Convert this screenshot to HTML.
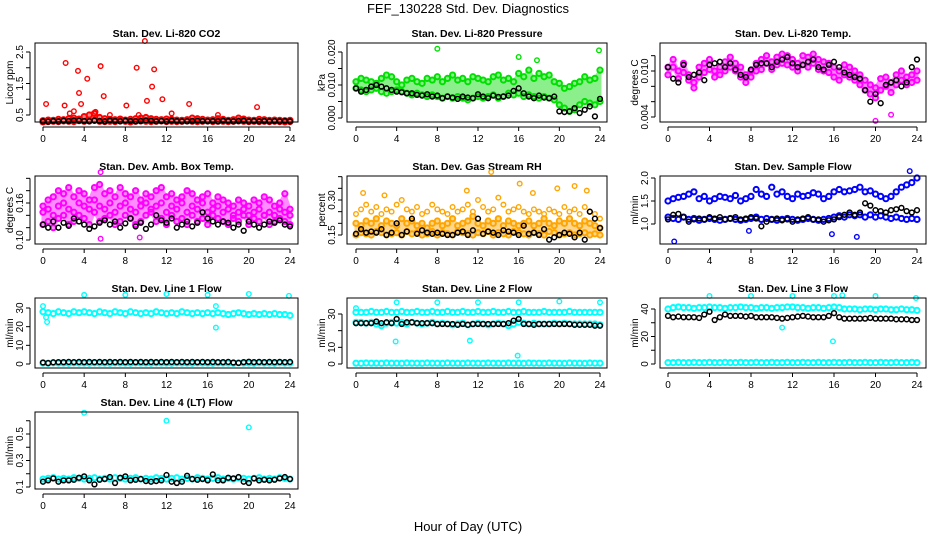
<!DOCTYPE html>
<html><head><meta charset="utf-8"><style>
body{margin:0;background:#fff}
svg{display:block;font-family:"Liberation Sans",sans-serif}
</style></head><body>
<svg id="c" width="936" height="540">
<text x="468" y="13" text-anchor="middle" font-size="13">FEF_130228  Std. Dev. Diagnostics</text>
<text x="468" y="531" text-anchor="middle" font-size="13">Hour of Day (UTC)</text>
</svg>
<script>
const hours = Array.from({length:49},(_, i)=>i*0.5);
const xTicks = [0,4,8,12,16,20,24];
// CO2
const co2Red = [0.32,0.34,0.33,0.36,0.35,0.38,0.40,0.37,0.45,0.50,0.55,0.42,0.38,0.36,0.35,0.37,0.34,0.36,0.38,0.40,0.42,0.38,0.36,0.35,0.37,0.36,0.34,0.33,0.35,0.40,0.38,0.36,0.34,0.35,0.38,0.36,0.33,0.35,0.40,0.37,0.34,0.33,0.36,0.35,0.33,0.34,0.33,0.32,0.33];
const co2Red2 = [0.28,0.29,0.30,0.29,0.31,0.30,0.29,0.32,0.30,0.31,0.33,0.30,0.29,0.30,0.29,0.31,0.30,0.28,0.30,0.31,0.30,0.29,0.30,0.31,0.29,0.30,0.29,0.30,0.31,0.30,0.29,0.30,0.31,0.29,0.30,0.30,0.29,0.30,0.31,0.30,0.29,0.30,0.29,0.30,0.29,0.30,0.29,0.28,0.29];
const co2Black = [0.30,0.29,0.31,0.30,0.32,0.31,0.33,0.32,0.31,0.30,0.32,0.31,0.30,0.33,0.31,0.30,0.32,0.31,0.30,0.31,0.33,0.32,0.30,0.31,0.30,0.32,0.31,0.30,0.30,0.31,0.32,0.31,0.30,0.31,0.30,0.32,0.31,0.30,0.31,0.32,0.30,0.31,0.30,0.31,0.30,0.31,0.30,0.31,0.30];
const co2OutX = [0.3,2.2,2.1,3.4,3.5,3.7,4.3,5.6,5.9,5.1,8.1,9.1,9.9,10.1,10.6,10.8,11.6,14.2,20.8,12.5,3.0,6.5,17.0,2.6,9.3];
const co2OutY = [0.85,2.15,0.80,1.90,1.20,0.85,1.65,2.05,1.10,0.60,0.80,2.00,2.85,0.95,1.40,1.95,1.00,0.85,0.75,0.55,0.62,0.50,0.50,0.55,0.50];
// Pressure
const prGreenHi = [0.011,0.012,0.0115,0.011,0.0105,0.012,0.013,0.0125,0.011,0.010,0.0115,0.012,0.011,0.0105,0.012,0.0115,0.0125,0.011,0.012,0.013,0.0115,0.012,0.011,0.0125,0.012,0.0115,0.011,0.0125,0.013,0.0115,0.012,0.011,0.0135,0.0125,0.0145,0.012,0.0135,0.0125,0.013,0.011,0.0105,0.009,0.0095,0.0105,0.011,0.0125,0.0115,0.012,0.0145];
const prGreenLo = [0.009,0.0085,0.008,0.0085,0.009,0.008,0.0075,0.008,0.0085,0.008,0.0075,0.007,0.0075,0.007,0.0065,0.007,0.0065,0.006,0.0065,0.006,0.0065,0.006,0.0055,0.006,0.0065,0.006,0.0065,0.007,0.006,0.0065,0.0075,0.007,0.0075,0.0065,0.007,0.0065,0.006,0.0065,0.006,0.0055,0.004,0.003,0.002,0.0025,0.004,0.005,0.0045,0.004,0.005];
const prBlack = [0.009,0.008,0.0085,0.0095,0.010,0.0095,0.009,0.0085,0.008,0.0078,0.0075,0.0075,0.007,0.0068,0.0072,0.0065,0.0068,0.006,0.0065,0.0062,0.0058,0.0065,0.0062,0.006,0.0072,0.0065,0.006,0.0068,0.0064,0.0065,0.0068,0.0082,0.009,0.0075,0.0065,0.006,0.0068,0.0062,0.006,0.0065,0.002,0.0018,0.002,0.003,0.0015,0.0025,0.0035,0.0005,0.0058];
const prOutX = [8.0,16.0,17.8,23.9];
const prOutY = [0.021,0.0185,0.0175,0.0205];
// Li-820 Temp
const tpMag = [0.0105,0.0115,0.010,0.011,0.0095,0.0085,0.0105,0.011,0.0115,0.010,0.0105,0.0112,0.0118,0.011,0.0105,0.0095,0.010,0.011,0.0115,0.012,0.0112,0.0118,0.0122,0.012,0.0115,0.011,0.012,0.0118,0.0122,0.0115,0.0112,0.011,0.0105,0.010,0.0108,0.0105,0.010,0.0095,0.0088,0.0082,0.0078,0.009,0.0092,0.0085,0.0095,0.010,0.0092,0.0095,0.010];
const tpMag2 = [0.0095,0.0105,0.009,0.0098,0.0088,0.0078,0.0092,0.0098,0.0102,0.0092,0.0095,0.010,0.0105,0.010,0.0092,0.0085,0.0092,0.010,0.0102,0.011,0.0102,0.0108,0.011,0.0108,0.0105,0.010,0.0108,0.0105,0.011,0.0102,0.010,0.0098,0.0092,0.0088,0.0095,0.0092,0.0088,0.0082,0.0075,0.007,0.0065,0.0075,0.008,0.0072,0.0082,0.0088,0.0082,0.0085,0.0088];
const tpBlack = [0.0105,0.009,0.0085,0.0108,0.0092,0.0095,0.0098,0.0088,0.0108,0.011,0.0112,0.0105,0.011,0.0102,0.0095,0.0092,0.0102,0.0108,0.011,0.011,0.0105,0.0112,0.0115,0.0118,0.011,0.0105,0.0108,0.0112,0.0115,0.0105,0.0102,0.0108,0.0112,0.0105,0.0098,0.0095,0.0092,0.009,0.0075,0.006,0.007,0.0058,0.0082,0.0085,0.0088,0.008,0.0085,0.0105,0.0115];
const tpOutX = [20.0,21.5];
const tpOutY = [0.0035,0.0043];
// Amb Box Temp
const abMagHi = [0.155,0.165,0.17,0.18,0.175,0.185,0.17,0.18,0.175,0.165,0.185,0.19,0.175,0.18,0.17,0.185,0.175,0.17,0.18,0.165,0.175,0.17,0.18,0.185,0.17,0.175,0.165,0.17,0.18,0.175,0.165,0.17,0.175,0.16,0.17,0.165,0.16,0.155,0.165,0.16,0.155,0.165,0.16,0.17,0.165,0.155,0.16,0.175,0.15];
const abMagLo = [0.125,0.13,0.12,0.135,0.14,0.125,0.13,0.14,0.135,0.125,0.145,0.13,0.135,0.14,0.125,0.13,0.14,0.135,0.125,0.13,0.14,0.145,0.13,0.135,0.125,0.14,0.13,0.135,0.125,0.14,0.13,0.135,0.125,0.14,0.135,0.13,0.125,0.135,0.13,0.14,0.125,0.135,0.13,0.14,0.125,0.13,0.135,0.13,0.125];
const abMagMid = [0.145,0.15,0.14,0.155,0.16,0.15,0.145,0.16,0.155,0.15,0.165,0.155,0.15,0.16,0.145,0.155,0.16,0.15,0.145,0.155,0.16,0.15,0.155,0.16,0.145,0.155,0.15,0.16,0.145,0.155,0.15,0.16,0.145,0.15,0.155,0.145,0.15,0.14,0.145,0.15,0.14,0.145,0.15,0.14,0.145,0.14,0.15,0.145,0.14];
const abBlack = [0.125,0.12,0.13,0.12,0.128,0.123,0.135,0.13,0.125,0.118,0.122,0.128,0.132,0.125,0.13,0.12,0.127,0.135,0.122,0.128,0.118,0.125,0.14,0.132,0.128,0.135,0.12,0.125,0.13,0.122,0.128,0.145,0.135,0.13,0.125,0.13,0.128,0.12,0.125,0.115,0.13,0.125,0.12,0.125,0.13,0.128,0.132,0.125,0.122];
const abOutX = [5.6,9.4,5.6];
const abOutY = [0.102,0.104,0.21];
// Gas Stream RH
const rhOrLo = [0.15,0.16,0.155,0.15,0.165,0.16,0.15,0.155,0.16,0.15,0.165,0.155,0.16,0.15,0.155,0.165,0.15,0.16,0.155,0.15,0.165,0.16,0.155,0.15,0.16,0.155,0.165,0.15,0.16,0.155,0.15,0.165,0.16,0.155,0.15,0.16,0.155,0.15,0.165,0.16,0.15,0.155,0.16,0.15,0.155,0.16,0.15,0.155,0.15];
const rhOrMid = [0.2,0.19,0.21,0.2,0.22,0.19,0.21,0.2,0.19,0.22,0.2,0.21,0.19,0.2,0.18,0.2,0.21,0.19,0.2,0.22,0.19,0.2,0.21,0.23,0.2,0.19,0.21,0.2,0.22,0.19,0.21,0.2,0.19,0.2,0.21,0.19,0.2,0.22,0.2,0.19,0.21,0.2,0.22,0.2,0.19,0.21,0.2,0.19,0.18];
const rhOrHi = [0.24,0.26,0.28,0.25,0.27,0.24,0.26,0.25,0.28,0.3,0.26,0.25,0.27,0.24,0.25,0.28,0.26,0.25,0.24,0.27,0.25,0.26,0.28,0.25,0.3,0.27,0.25,0.26,0.31,0.28,0.25,0.26,0.27,0.25,0.24,0.26,0.25,0.24,0.26,0.25,0.24,0.27,0.25,0.26,0.24,0.27,0.25,0.24,0.22];
const rhBlack = [0.155,0.175,0.16,0.165,0.16,0.175,0.15,0.16,0.2,0.15,0.165,0.22,0.155,0.17,0.16,0.155,0.16,0.155,0.15,0.15,0.16,0.165,0.15,0.17,0.22,0.155,0.165,0.16,0.15,0.17,0.165,0.16,0.15,0.19,0.155,0.16,0.15,0.175,0.13,0.14,0.15,0.16,0.155,0.14,0.16,0.13,0.25,0.22,0.18];
const rhOutX = [13.3,0.7,2.8,16.1,19.8,21.5,17.4,22.7,10.9];
const rhOutY = [0.42,0.33,0.32,0.37,0.35,0.36,0.33,0.34,0.34];
// Sample Flow
const sfBlueHi = [1.5,1.55,1.58,1.6,1.65,1.7,1.55,1.6,1.5,1.55,1.6,1.58,1.55,1.62,1.5,1.55,1.6,1.75,1.65,1.6,1.8,1.65,1.7,1.6,1.55,1.65,1.6,1.62,1.68,1.65,1.55,1.6,1.7,1.75,1.7,1.72,1.75,1.8,1.7,1.72,1.65,1.6,1.55,1.6,1.7,1.8,1.85,1.9,2.0];
const sfBlueLo = [1.15,1.12,1.1,1.15,1.1,1.12,1.08,1.1,1.12,1.1,1.08,1.1,1.12,1.1,1.08,1.1,1.12,1.15,1.1,1.12,1.1,1.08,1.1,1.12,1.1,1.08,1.1,1.12,1.1,1.08,1.1,1.12,1.15,1.18,1.15,1.2,1.18,1.2,1.15,1.2,1.15,1.18,1.15,1.12,1.15,1.12,1.1,1.12,1.1];
const sfBlack = [1.1,1.2,1.22,1.15,1.05,1.1,1.12,1.1,1.15,1.12,1.15,1.1,1.12,1.15,1.1,1.12,1.15,1.12,0.95,1.05,1.1,1.12,1.08,1.1,1.05,1.1,1.12,1.15,1.1,1.1,1.05,1.08,1.1,1.15,1.2,1.25,1.2,1.25,1.45,1.4,1.3,1.28,1.25,1.3,1.32,1.35,1.28,1.25,1.3];
const sfOutX = [0.6,7.8,15.8,18.2,23.3];
const sfOutY = [0.62,0.85,0.78,0.72,2.15];
// Line 1
const l1Cyan = [28,27.5,27,28,27.5,27,28,27.5,28,27.5,27,28,27.5,27,28,27.5,27,28,27.5,27,27.5,27,28,27.5,27,27.5,27,28,27.5,27,27.5,27,27.5,27,27.5,27,26.5,27,27.5,27,26.5,27,26.5,27,26.5,27,26.5,26.5,26];
const l1CyanLo = [0.5,0.4,0.6,0.5,0.5,0.4,0.6,0.5,0.5,0.4,0.6,0.5,0.5,0.4,0.6,0.5,0.5,0.4,0.6,0.5,0.5,0.4,0.6,0.5,0.5,0.4,0.6,0.5,0.5,0.4,0.6,0.5,0.5,0.4,0.6,0.5,0.5,0.4,0.6,0.5,0.5,0.4,0.6,0.5,0.5,0.4,0.6,0.5,0.5];
const l1Black = [0.8,0.5,0.9,1,1,1.1,1,1.1,1,1.1,1,1.1,1,1.1,1,1.1,1,1.1,1,1.1,1,1.1,1,1.1,1,1.1,1,1.1,1,1.1,1,1.1,1,1.1,1,1,1.1,0.8,0.6,1,1.2,1,1.1,1,1.1,1,1.1,1,1.1];
const l1OutX = [0,0.3,0.4,4,8,12,16,16.8,16.8,20,23.9];
const l1OutY = [31,25,22.5,37,37,37.5,37,31,19.5,37.5,36.5];
// Line 2
const l2CyanHi = [31,31,31,31.5,31,31,31.5,31,31,31.5,31,31,31.5,31,31,31.5,31,31,31.5,31,31,31.5,31,31,31.5,31,31,31.5,31,31,31.5,31,31,31.5,31,31,31,31.5,31,31,31,31,31.5,31,31,31,31,31,31];
const l2CyanMid = [25,25,24.5,25,24,23,24.5,25,24.5,25,24,25,24.5,24,24.5,25,24,24.5,24,23.5,24,24.5,23.5,24,24.5,24,23.5,24,24.5,24,23,24,25,24.5,24,24.5,24,24,24,24.5,24,24.5,24,24,24,24,24,24,23.5];
const l2CyanLo = [0.5,0.4,0.6,0.5,0.5,0.4,0.6,0.5,0.5,0.4,0.6,0.5,0.5,0.4,0.6,0.5,0.5,0.4,0.6,0.5,0.5,0.4,0.6,0.5,0.5,0.4,0.6,0.5,0.5,0.4,0.6,0.5,0.5,0.4,0.6,0.5,0.5,0.4,0.6,0.5,0.5,0.4,0.6,0.5,0.5,0.4,0.6,0.5,0.5];
const l2Black = [24.5,24.5,24.5,24.5,25.5,24.5,25,24.5,27,24,25,25,24.5,24.5,24.5,24.5,24,24,24,24,23.5,24,23.5,24,24,24,24,24,24,24,24.5,26,27,24,24,23.5,24,24,24,24,24,24,24,23.5,23.5,23.5,23.5,23,23];
const l2OutX = [0,4,8,12,16,20,24,3.9,11.2,15.9];
const l2OutY = [33.5,37,37,37,37,37.5,37,13.5,14,5];
// Line 3
const l3CyanHi = [40,41,41.5,41,41,40.5,41,41,41.5,41,41,40.5,41,41,41.5,41,41,40.5,41,41,40.5,41,41,41.5,41.5,41,41,40.5,41,41,40.5,41,41.5,41,40,40,40,39.5,40,40,39.5,40,40,39.5,39.5,40,39.5,39.5,39];
const l3CyanLo = [1,1,1.2,1,1,1.2,1,1,1.2,1,1,1.2,1,1,1.2,1,1,1.2,1,1,1.2,1,1,1.2,1,1,1.2,1,1,1.2,1,1,1.2,1,1,1.2,1,1,1.2,1,1,1.2,1,1,1.2,1,1,1.2,1];
const l3Black = [35,34,34.5,34,34,34,33.5,36,38,32,34,36,35,35,35,34.5,35,34,34,34,34,33.5,33,33.5,34,34.5,35,34.5,34,34,34,35,37,34,33,33,33,33,33,33.5,33,33,33,33,32.5,32.5,32.5,32,32];
const l3OutX = [4,8,12,16,16.8,20,23.9,11,15.9];
const l3OutY = [49.5,49.5,49.5,49.5,50,49.5,48,26.5,16.5];
// Line 4
const l4Cyan = [0.16,0.165,0.17,0.16,0.165,0.16,0.17,0.165,0.16,0.165,0.17,0.16,0.165,0.16,0.17,0.165,0.16,0.165,0.17,0.16,0.165,0.16,0.17,0.165,0.16,0.165,0.17,0.16,0.165,0.16,0.17,0.165,0.16,0.165,0.17,0.16,0.165,0.16,0.17,0.165,0.16,0.165,0.17,0.16,0.165,0.16,0.17,0.165,0.16];
const l4Black = [0.14,0.15,0.165,0.14,0.15,0.15,0.155,0.17,0.18,0.15,0.12,0.155,0.16,0.175,0.13,0.17,0.18,0.15,0.155,0.16,0.145,0.14,0.145,0.15,0.19,0.14,0.13,0.14,0.185,0.16,0.155,0.16,0.15,0.195,0.15,0.15,0.17,0.165,0.175,0.14,0.13,0.165,0.15,0.155,0.15,0.155,0.165,0.175,0.16];
const l4OutX = [4,12,20];
const l4OutY = [0.66,0.6,0.55];

const svg = document.getElementById('c');
const NS = 'http://www.w3.org/2000/svg';
function mk(tag, attrs, parent){const e=document.createElementNS(NS,tag);for(const k in attrs)e.setAttribute(k,attrs[k]);(parent||svg).appendChild(e);return e;}

const cols=[{l:35,r:298,x0:43,x24:290},{l:347,r:607,x0:356,x24:600},{l:660,r:926,x0:668,x24:917}];
const rows=[{t:43,b:122},{t:176,b:244},{t:298,b:368},{t:412,b:489}];

function panel(name,title,ylab,ci,ri,ref,ticks,labels,fmt,bands,series){
  const c=cols[ci],r=rows[ri];
  const g=mk('g',{});
  
  
  const xs=v=>c.x0+(c.x24-c.x0)*v/24;
  const ys=v=>ref[1]+(v-ref[0])*(ref[3]-ref[1])/(ref[2]-ref[0]);
  const t=mk('text',{x:(c.l+c.r)/2,y:r.t-6,'text-anchor':'middle','font-size':10.5,'font-weight':'bold'},g);
  t.textContent=title;
  
  
  const yl=mk('text',{x:0,y:0,'text-anchor':'middle','font-size':10,transform:`translate(${c.l-22},${(r.t+r.b)/2}) rotate(-90)`},g);
  yl.textContent=ylab;
  
  
  mk('line',{x1:xs(0),x2:xs(24),y1:r.b+5,y2:r.b+5,stroke:'#000'},g);
  xTicks.forEach(v=>{
    mk('line',{x1:xs(v),x2:xs(v),y1:r.b+5,y2:r.b+9,stroke:'#000'},g);
    const tx=mk('text',{x:xs(v),y:r.b+20,'text-anchor':'middle','font-size':10},g);
    tx.textContent=v;
    
    
  });
  mk('line',{x1:c.l-5,x2:c.l-5,y1:ys(ticks[0]),y2:ys(ticks[ticks.length-1]),stroke:'#000'},g);
  ticks.forEach(v=>{
    const y=ys(v);
    mk('line',{x1:c.l-9,x2:c.l-5,y1:y,y2:y,stroke:'#000'},g);
    if(labels.includes(v)){
      const ty=mk('text',{x:0,y:0,'text-anchor':'middle','font-size':10,transform:`translate(${c.l-12},${y}) rotate(-90)`},g);
      ty.textContent=fmt<0?String(v):v.toFixed(fmt);
      
      
    }
  });
  bands.forEach(b=>{
    const pts=b.hi.map((v,i)=>xs(hours[i])+','+ys(v)).concat(b.lo.map((v,i)=>[i,v]).reverse().map(([i,v])=>xs(hours[i])+','+ys(v)));
    const pg=mk('polygon',{points:pts.join(' '),fill:b.col,opacity:0.45,stroke:b.col,'stroke-width':3,'stroke-linejoin':'round'},g);
    
    
  });
  series.forEach(s=>{
    const X=s.x||hours;
    s.y.forEach((v,i)=>{
      const p=mk('circle',{cx:xs(X[i]),cy:ys(v),r:s.k?2.4:(s.d?2.6:2.3),fill:'none',stroke:s.col,'stroke-width':s.k?1.5:(s.d?2:1.4)},g);
      
      
    });
  });
  const box=mk('rect',{x:c.l,y:r.t,width:c.r-c.l,height:r.b-r.t,fill:'none',stroke:'#000'},g);
  
  
}
const R='#ff0000',G='#00e000',M='#ff00ff',O='#ffa500',B='#0000ff',C='#00ffff',K='#000';
panel('panel-co2','Stan. Dev. Li-820 CO2','Licor ppm',0,0,[0.5,115,2.5,52],[0.5,1,1.5,2,2.5],[0.5,1.5,2.5],1,
 [{lo:co2Red2,hi:co2Red,col:R}],
 [{y:co2Red2,col:R,d:1},{y:co2Red,col:R,d:1},{x:co2OutX,y:co2OutY,col:R},{y:co2Black,col:K,k:1}]);
panel('panel-pressure','Stan. Dev. Li-820 Pressure','kPa',1,0,[0,118,0.02,52],[0,0.005,0.01,0.015,0.02],[0,0.01,0.02],3,
 [{lo:prGreenLo,hi:prGreenHi,col:G}],
 [{y:prGreenHi,col:G,d:1},{y:prGreenLo,col:G,d:1},{x:prOutX,y:prOutY,col:G},{y:prBlack,col:K,k:1}]);
panel('panel-temp','Stan. Dev. Li-820 Temp.','degrees C',2,0,[0.004,117,0.01,71],[0.004,0.006,0.008,0.01,0.012],[0.004,0.01],3,
 [{lo:tpMag2,hi:tpMag,col:M}],
 [{y:tpMag,col:M,d:1},{y:tpMag2,col:M,d:1},{x:tpOutX,y:tpOutY,col:M},{y:tpBlack,col:K,k:1}]);
panel('panel-ambbox','Stan. Dev. Amb. Box Temp.','degrees C',0,1,[0.1,240,0.16,203],[0.1,0.12,0.14,0.16,0.18,0.2],[0.1,0.16],2,
 [{lo:abMagLo,hi:abMagHi,col:M}],
 [{y:abMagHi,col:M,d:1},{y:abMagMid,col:M,d:1},{y:abMagLo,col:M,d:1},{x:abOutX,y:abOutY,col:M},{y:abBlack,col:K,k:1}]);
panel('panel-rh','Stan. Dev. Gas Stream RH','percent',1,1,[0.15,235,0.3,200],[0.15,0.2,0.25,0.3,0.35,0.4],[0.15,0.3],2,
 [{lo:rhOrLo,hi:rhOrMid,col:O}],
 [{y:rhOrLo,col:O,d:1},{y:rhOrMid,col:O,d:1},{y:rhOrHi,col:O},{x:rhOutX,y:rhOutY,col:O},{y:rhBlack,col:K,k:1}]);
panel('panel-sampleflow','Stan. Dev. Sample Flow','ml/min',2,1,[1,224,2,178],[1,1.5,2],[1,1.5,2],1,
 [],
 [{y:sfBlueHi,col:B,d:1},{y:sfBlueLo,col:B,d:1},{x:sfOutX,y:sfOutY,col:B},{y:sfBlack,col:K,k:1}]);
panel('panel-line1','Stan. Dev. Line 1 Flow','ml/min',0,2,[0,364,30,308],[0,10,20,30],[0,10,20,30],-1,
 [],
 [{y:l1Cyan,col:C,d:1},{y:l1CyanLo,col:C,d:1},{x:l1OutX,y:l1OutY,col:C},{y:l1Black,col:K,k:1}]);
panel('panel-line2','Stan. Dev. Line 2 Flow','ml/min',1,2,[0,364,30,314],[0,10,20,30],[0,10,30],-1,
 [],
 [{y:l2CyanHi,col:C,d:1},{y:l2CyanMid,col:C,d:1},{y:l2CyanLo,col:C,d:1},{x:l2OutX,y:l2OutY,col:C},{y:l2Black,col:K,k:1}]);
panel('panel-line3','Stan. Dev. Line 3 Flow','ml/min',2,2,[0,364,40,309],[0,10,20,30,40],[0,20,40],-1,
 [],
 [{y:l3CyanHi,col:C,d:1},{y:l3CyanLo,col:C,d:1},{x:l3OutX,y:l3OutY,col:C},{y:l3Black,col:K,k:1}]);
panel('panel-line4','Stan. Dev. Line 4 (LT) Flow','ml/min',0,3,[0.1,487,0.5,434],[0.1,0.2,0.3,0.4,0.5,0.6],[0.1,0.3,0.5],1,
 [],
 [{y:l4Cyan,col:C,d:1},{x:l4OutX,y:l4OutY,col:C},{y:l4Black,col:K,k:1}]);
</script>
</body></html>
